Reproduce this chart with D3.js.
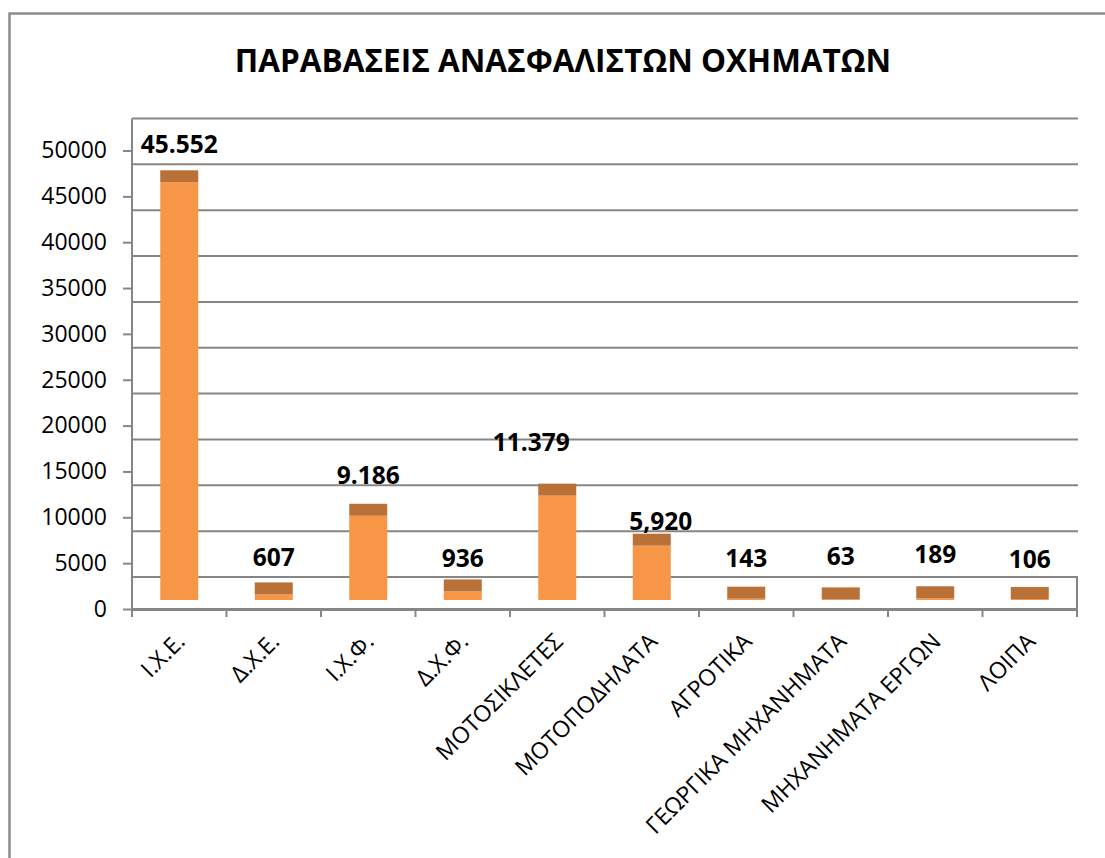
<!DOCTYPE html>
<html>
<head>
<meta charset="utf-8">
<script src="https://cdn.jsdelivr.net/npm/d3@7"></script>
<style>
    body { margin: 0; background: #fff; }
    svg { display: block; font-family: "Open Sans", "DejaVu Sans", sans-serif; }
</style>
</head>
<body>
<div id="chart"></div>
<script>
// Data
var categories = ["Ι.Χ.Ε.", "Δ.Χ.Ε.", "Ι.Χ.Φ.", "Δ.Χ.Φ.", "ΜΟΤΟΣΙΚΛΕΤΕΣ", "ΜΟΤΟΠΟΔΗΛΑΤΑ",
    "ΑΓΡΟΤΙΚΑ", "ΓΕΩΡΓΙΚΑ ΜΗΧΑΝΗΜΑΤΑ", "ΜΗΧΑΝΗΜΑΤΑ ΕΡΓΩΝ", "ΛΟΙΠΑ"];
var values = [45552, 607, 9186, 936, 11379, 5920, 143, 63, 189, 106];
var valueLabels = ["45.552", "607", "9.186", "936", "11.379", "5,920", "143", "63", "189", "106"];
var yTicks = [0, 5000, 10000, 15000, 20000, 25000, 30000, 35000, 40000, 45000, 50000];
var title = "ΠΑΡΑΒΑΣΕΙΣ ΑΝΑΣΦΑΛΙΣΤΩΝ ΟΧΗΜΑΤΩΝ";

// hand-dragged label offsets (as in the original sheet)
var labelDx = [0, 0, 0, 0, -26, 9, 0, 0, 0, 0];
var labelDy = [-17, -16, -20, -12, -33, -4, -20, -22, -23, -19];

(function () {
    var W = 1105, H = 858;
    var plotLeft = 132, plotRight = 1077, plotFront = 609, plotTop = 150.5;
    var wallDepth = 32;   // back wall offset
    var barInset = 9;     // bar front sits behind floor front
    var barDepth = 12;
    var barW = 38;
    var gridColor = "#868686";

    var svg = d3.select("#chart").append("svg")
        .attr("width", W)
        .attr("height", H);

    // outer chart border
    svg.append("path")
        .attr("d", "M9.5," + H + " V13.5 H" + W)
        .attr("fill", "none")
        .attr("stroke", "#8c8c8c")
        .attr("stroke-width", 2.5);

    svg.append("text")
        .attr("x", 563)
        .attr("y", 72)
        .attr("text-anchor", "middle")
        .attr("font-size", "31.5px")
        .attr("font-weight", "bold")
        .text(title);

    var x = d3.scaleBand()
        .domain(categories)
        .range([plotLeft, plotRight])
        .padding(0);

    var y = d3.scaleLinear()
        .domain([0, 50000])
        .range([plotFront, plotTop]);

    // back wall gridlines
    svg.append("g")
        .selectAll("line")
        .data(yTicks)
        .enter()
        .append("line")
        .attr("x1", plotLeft)
        .attr("x2", plotRight + 1)
        .attr("y1", function (d) { return y(d) - wallDepth; })
        .attr("y2", function (d) { return y(d) - wallDepth; })
        .attr("stroke", gridColor)
        .attr("stroke-width", 2);

    // floor box
    svg.append("rect")
        .attr("x", plotLeft)
        .attr("y", y(0) - wallDepth)
        .attr("width", plotRight - plotLeft)
        .attr("height", wallDepth)
        .attr("fill", "#fff")
        .attr("stroke", gridColor)
        .attr("stroke-width", 2);

    // left wall edge
    svg.append("line")
        .attr("x1", plotLeft).attr("x2", plotLeft)
        .attr("y1", y(50000) - wallDepth).attr("y2", plotFront + 1)
        .attr("stroke", gridColor)
        .attr("stroke-width", 2);

    // Y axis
    var yAxis = svg.append("g")
        .attr("transform", "translate(" + plotLeft + ",0)")
        .call(d3.axisLeft(y).tickValues(yTicks).tickSize(9).tickPadding(16).tickFormat(d3.format("d")));
    yAxis.select(".domain").remove();
    yAxis.selectAll(".tick line").attr("stroke", gridColor).attr("stroke-width", 2);
    yAxis.selectAll(".tick text")
        .attr("font-size", "23px")
        .attr("font-family", "Open Sans, sans-serif")
        .attr("fill", "#000");

    // X axis line and ticks at band edges
    var edges = categories.map(function (c) { return x(c); }).concat([plotRight]);
    svg.append("line")
        .attr("x1", plotLeft).attr("x2", plotRight)
        .attr("y1", plotFront + 1).attr("y2", plotFront + 1)
        .attr("stroke", gridColor)
        .attr("stroke-width", 2);
    svg.append("g")
        .selectAll("line")
        .data(edges)
        .enter()
        .append("line")
        .attr("x1", function (d) { return d; })
        .attr("x2", function (d) { return d; })
        .attr("y1", plotFront + 1)
        .attr("y2", plotFront + 8)
        .attr("stroke", gridColor)
        .attr("stroke-width", 2);

    // X labels
    svg.append("g")
        .selectAll("text")
        .data(categories)
        .enter()
        .append("text")
        .attr("text-anchor", "end")
        .attr("font-size", "23px")
        .attr("transform", function (d) {
            var cx = x(d) + x.bandwidth() / 2 + 7;
            return "translate(" + cx + "," + 643 + ") rotate(-45)";
        })
        .text(function (d) { return d; });

    // bars (front face + top face)
    var bars = svg.append("g")
        .selectAll("g")
        .data(values)
        .enter()
        .append("g");

    bars.append("rect")
        .attr("x", function (d, i) { return x(categories[i]) + x.bandwidth() / 2 - barW / 2; })
        .attr("y", function (d) { return y(d) - barInset; })
        .attr("width", barW)
        .attr("height", function (d) { return y(0) - y(d); })
        .attr("fill", "#F79646");

    bars.append("rect")
        .attr("x", function (d, i) { return x(categories[i]) + x.bandwidth() / 2 - barW / 2; })
        .attr("y", function (d) { return y(d) - barInset - barDepth; })
        .attr("width", barW)
        .attr("height", barDepth)
        .attr("fill", "#B97137");

    // value labels
    svg.append("g")
        .selectAll("text")
        .data(values)
        .enter()
        .append("text")
        .attr("x", function (d, i) { return x(categories[i]) + x.bandwidth() / 2 + labelDx[i]; })
        .attr("y", function (d, i) { return y(d) - barInset - barDepth + labelDy[i]; })
        .attr("text-anchor", "middle")
        .attr("font-size", "24.5px")
        .attr("font-weight", "bold")
        .text(function (d, i) { return valueLabels[i]; });
})();
</script>
</body>
</html>
